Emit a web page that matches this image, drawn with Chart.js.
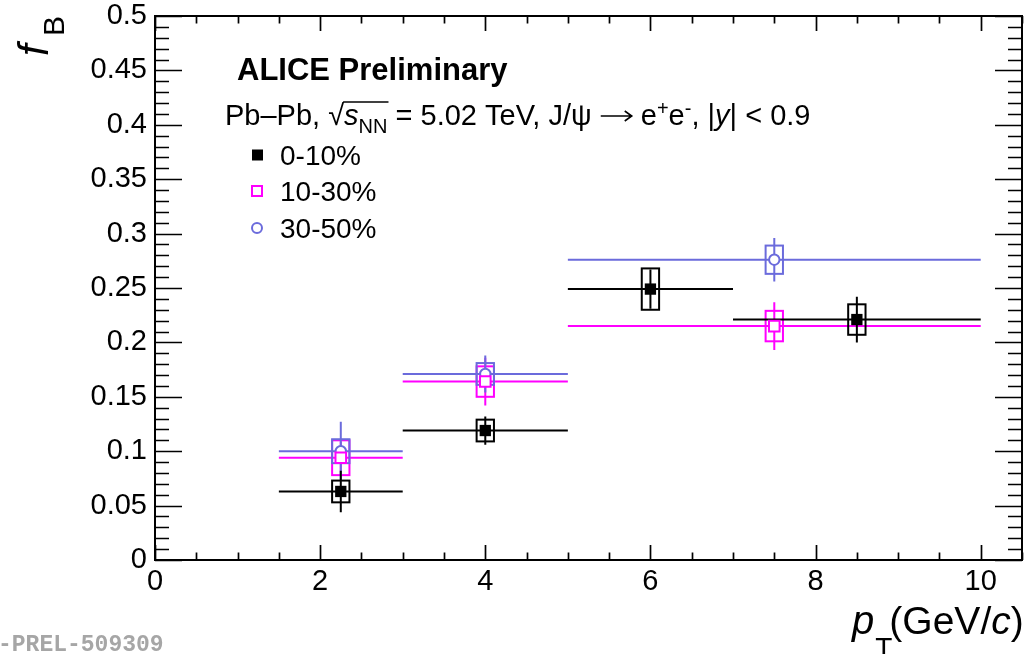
<!DOCTYPE html>
<html>
<head>
<meta charset="utf-8">
<script src="https://cdn.jsdelivr.net/npm/chart.js@4/dist/chart.umd.min.js"></script>
<style>
  html, body { margin: 0; padding: 0; background: #fff; }
  #wrap { width: 1025px; height: 654px; position: relative; }
</style>
</head>
<body>
<div id="wrap"><canvas id="c" width="1025" height="654"></canvas></div>
<script>
// J/psi non-prompt fraction f_B vs pT, Pb-Pb 5.02 TeV, three centrality classes

// 0-10%
const binLo010 = [1.5, 3, 5, 7];
const binHi010 = [3, 5, 7, 10];
const pt010    = [2.25, 4, 6, 8.5];
const fB010    = [0.063, 0.119, 0.249, 0.221];
const stat010  = [0.019, 0.013, 0.018, 0.021];
const syst010  = [0.010, 0.010, 0.019, 0.014];

// 10-30%
const binLo1030 = [1.5, 3, 5];
const binHi1030 = [3, 5, 10];
const pt1030    = [2.25, 4, 7.5];
const fB1030    = [0.094, 0.164, 0.215];
const stat1030  = [0.015, 0.022, 0.022];
const syst1030  = [0.016, 0.014, 0.014];

// 30-50%
const binLo3050 = [1.5, 3, 5];
const binHi3050 = [3, 5, 10];
const pt3050    = [2.25, 4, 7.5];
const fB3050    = [0.100, 0.171, 0.276];
const stat3050  = [0.027, 0.017, 0.020];
const syst3050  = [0.011, 0.010, 0.013];

// axis ticks
const xTicks = [0, 2, 4, 6, 8, 10];
const xTickLabels = ['0', '2', '4', '6', '8', '10'];
const yTicks = [0, 0.05, 0.1, 0.15, 0.2, 0.25, 0.3, 0.35, 0.4, 0.45, 0.5];
const yTickLabels = ['0', '0.05', '0.1', '0.15', '0.2', '0.25', '0.3', '0.35', '0.4', '0.45', '0.5'];

const seriesNames = ['0-10%', '10-30%', '30-50%'];

const FONT = "'Liberation Sans', Arial, Helvetica, sans-serif";
const BLACK = '#000000';
const MAGENTA = '#ff00ff';
const BLUE = '#6b6bdc';
const BOX_HALF = 0.105; // half width of the systematic box, in GeV/c

const series = [
  { lo: binLo1030, hi: binHi1030, x: pt1030, v: fB1030, st: stat1030, sy: syst1030, color: MAGENTA },
  { lo: binLo3050, hi: binHi3050, x: pt3050, v: fB3050, st: stat3050, sy: syst3050, color: BLUE },
  { lo: binLo010,  hi: binHi010,  x: pt010,  v: fB010,  st: stat010,  sy: syst010,  color: BLACK }
];

function pts(xs, vs) { return xs.map((x, i) => ({ x: x, y: vs[i] })); }

// bin-width lines, statistical bars and systematic boxes
const errorPlugin = {
  id: 'errors',
  beforeDatasetsDraw(chart) {
    const { ctx, chartArea: a, scales: { x, y } } = chart;
    ctx.save();
    ctx.beginPath();
    ctx.rect(a.left, a.top, a.right - a.left, a.bottom - a.top);
    ctx.clip();
    ctx.lineWidth = 2;
    series.forEach(s => {
      ctx.strokeStyle = s.color;
      s.x.forEach((xc, i) => {
        const py = y.getPixelForValue(s.v[i]);
        const px = x.getPixelForValue(xc);
        ctx.beginPath();
        ctx.moveTo(x.getPixelForValue(s.lo[i]), py);
        ctx.lineTo(x.getPixelForValue(s.hi[i]), py);
        ctx.moveTo(px, y.getPixelForValue(s.v[i] - s.st[i]));
        ctx.lineTo(px, y.getPixelForValue(s.v[i] + s.st[i]));
        ctx.stroke();
        const bx0 = x.getPixelForValue(xc - BOX_HALF);
        const bx1 = x.getPixelForValue(xc + BOX_HALF);
        const by0 = y.getPixelForValue(s.v[i] + s.sy[i]);
        const by1 = y.getPixelForValue(s.v[i] - s.sy[i]);
        ctx.strokeRect(bx0, by0, bx1 - bx0, by1 - by0);
      });
    });
    ctx.restore();
  }
};

// frame, inward ticks, axis titles, labels
const framePlugin = {
  id: 'frame',
  afterDraw(chart) {
    const { ctx, chartArea: a, scales: { x, y } } = chart;
    ctx.save();
    ctx.strokeStyle = '#000';
    ctx.lineWidth = 2;
    ctx.strokeRect(a.left, a.top, a.right - a.left, a.bottom - a.top);

    ctx.beginPath();
    // x ticks: major every 2, minor every 0.5
    for (let k = 0; k <= 21; k++) {
      const v = k * 0.5;
      const px = Math.round(x.getPixelForValue(v)) + 0.5;
      const len = (k % 4 === 0) ? 15 : 7.5;
      ctx.moveTo(px, a.bottom); ctx.lineTo(px, a.bottom - len);
      ctx.moveTo(px, a.top); ctx.lineTo(px, a.top + len);
    }
    // y ticks: major every 0.05, minor every 0.01
    for (let k = 0; k <= 50; k++) {
      const v = k * 0.01;
      const py = Math.round(y.getPixelForValue(v)) + 0.5;
      const len = (k % 5 === 0) ? 27 : 14;
      ctx.moveTo(a.left, py); ctx.lineTo(a.left + len, py);
      ctx.moveTo(a.right, py); ctx.lineTo(a.right - len, py);
    }
    ctx.lineWidth = 1.7;
    ctx.stroke();

    ctx.fillStyle = '#000';
    ctx.textAlign = 'left';
    ctx.textBaseline = 'alphabetic';

    // y title: f_B, rotated
    ctx.save();
    ctx.translate(48, 56);
    ctx.rotate(-Math.PI / 2);
    ctx.font = 'italic 42px ' + FONT;
    ctx.fillText('f', 0, 0);
    ctx.font = '30px ' + FONT;
    ctx.fillText('B', 20, 16);
    ctx.restore();

    // x title: p_T(GeV/c)
    let cx = 852;
    ctx.font = 'italic 40px ' + FONT;
    ctx.fillText('p', cx, 634);
    cx += ctx.measureText('p').width;
    ctx.font = '28px ' + FONT;
    ctx.fillText('T', cx + 1, 657);
    cx += ctx.measureText('T').width - 2;
    ctx.font = '39px ' + FONT;
    ctx.fillText('(GeV/', cx, 634);
    cx += ctx.measureText('(GeV/').width;
    ctx.font = 'italic 39px ' + FONT;
    ctx.fillText('c', cx, 634);
    cx += ctx.measureText('c').width;
    ctx.font = '39px ' + FONT;
    ctx.fillText(')', cx, 634);

    // header
    ctx.font = 'bold 31px ' + FONT;
    ctx.fillText('ALICE Preliminary', 237, 80);

    // collision system line
    let tx = 225;
    const base = 125;
    const put = (txt, font, dy) => {
      ctx.font = font;
      ctx.fillText(txt, tx, base + (dy || 0));
      const w = ctx.measureText(txt).width;
      tx += w;
      return w;
    };
    const F = '29px ' + FONT;
    const FI = 'italic 29px ' + FONT;
    const FS = '20px ' + FONT;
    put('Pb\u2013Pb, ', F);
    // square root sign with overline
    put('\u221A', F);
    const sStart = tx;
    put('s', FI);
    put('NN', FS, 8);
    ctx.beginPath();
    ctx.lineWidth = 1.6;
    ctx.moveTo(sStart - 1, base - 23);
    ctx.lineTo(tx + 1, base - 23);
    ctx.stroke();
    put(' = 5.02 TeV, J/\u03C8 ', F);
    // long arrow
    const ay = base - 9;
    ctx.beginPath();
    ctx.lineWidth = 1.6;
    ctx.moveTo(tx + 1, ay);
    ctx.lineTo(tx + 32, ay);
    ctx.moveTo(tx + 25, ay - 5);
    ctx.lineTo(tx + 32, ay);
    ctx.lineTo(tx + 25, ay + 5);
    ctx.stroke();
    tx += 33;
    put(' e', F);
    put('+', FS, -10);
    put('e', F);
    put('-', FS, -10);
    put(', |', F);
    put('y', FI);
    put('| < 0.9', F);

    // legend entries
    const legY = [155, 191, 228];
    ctx.font = '28px ' + FONT;
    seriesNames.forEach((t, i) => ctx.fillText(t, 280, legY[i] + 10));
    // markers
    ctx.fillStyle = BLACK;
    ctx.fillRect(252, legY[0] - 5.5, 11, 11);
    ctx.lineWidth = 2;
    ctx.strokeStyle = MAGENTA;
    ctx.strokeRect(252, legY[1] - 5, 10, 10);
    ctx.strokeStyle = BLUE;
    ctx.beginPath();
    ctx.arc(257, legY[2], 5, 0, Math.PI * 2);
    ctx.stroke();

    // preliminary figure id
    ctx.fillStyle = '#a6a6a6';
    ctx.font = 'bold 23px "Liberation Mono", "DejaVu Sans Mono", monospace';
    ctx.fillText('-PREL-509309', -2, 651);

    ctx.restore();
  }
};

const chart = new Chart(document.getElementById('c'), {
  type: 'scatter',
  data: {
    datasets: [
      { label: seriesNames[1], data: pts(pt1030, fB1030), pointStyle: 'rect', pointRadius: 7.5,
        backgroundColor: '#ffffff', borderColor: MAGENTA, borderWidth: 2 },
      { label: seriesNames[2], data: pts(pt3050, fB3050), pointStyle: 'circle', pointRadius: 5.2,
        backgroundColor: '#ffffff', borderColor: BLUE, borderWidth: 2 },
      { label: seriesNames[0], data: pts(pt010, fB010), pointStyle: 'rect', pointRadius: 8,
        backgroundColor: BLACK, borderColor: BLACK, borderWidth: 0 }
    ]
  },
  options: {
    responsive: false,
    animation: false,
    devicePixelRatio: 1,
    layout: { autoPadding: false, padding: { top: 16, right: 3, left: 0, bottom: 0 } },
    plugins: { legend: { display: false }, tooltip: { enabled: false } },
    scales: {
      x: {
        type: 'linear', min: 0, max: 10.5,
        grid: { display: false, drawTicks: false },
        border: { display: false },
        afterBuildTicks: s => { s.ticks = xTicks.map(v => ({ value: v })); },
        afterFit: s => { s.height = 94; },
        ticks: {
          color: '#000', padding: 7, maxRotation: 0,
          font: { family: FONT, size: 29, lineHeight: 1 },
          callback: (v) => xTickLabels[xTicks.indexOf(v)]
        }
      },
      y: {
        type: 'linear', min: 0, max: 0.5,
        grid: { display: false, drawTicks: false },
        border: { display: false },
        afterBuildTicks: s => { s.ticks = yTicks.map(v => ({ value: v })); },
        afterFit: s => { s.width = 155; },
        ticks: {
          color: '#000', padding: 8,
          font: { family: FONT, size: 29, lineHeight: 0.5 },
          callback: (v) => {
            const i = yTicks.findIndex(t => Math.abs(t - v) < 1e-9);
            return i >= 0 ? yTickLabels[i] : '';
          }
        }
      }
    }
  },
  plugins: [errorPlugin, framePlugin]
});
</script>
</body>
</html>
